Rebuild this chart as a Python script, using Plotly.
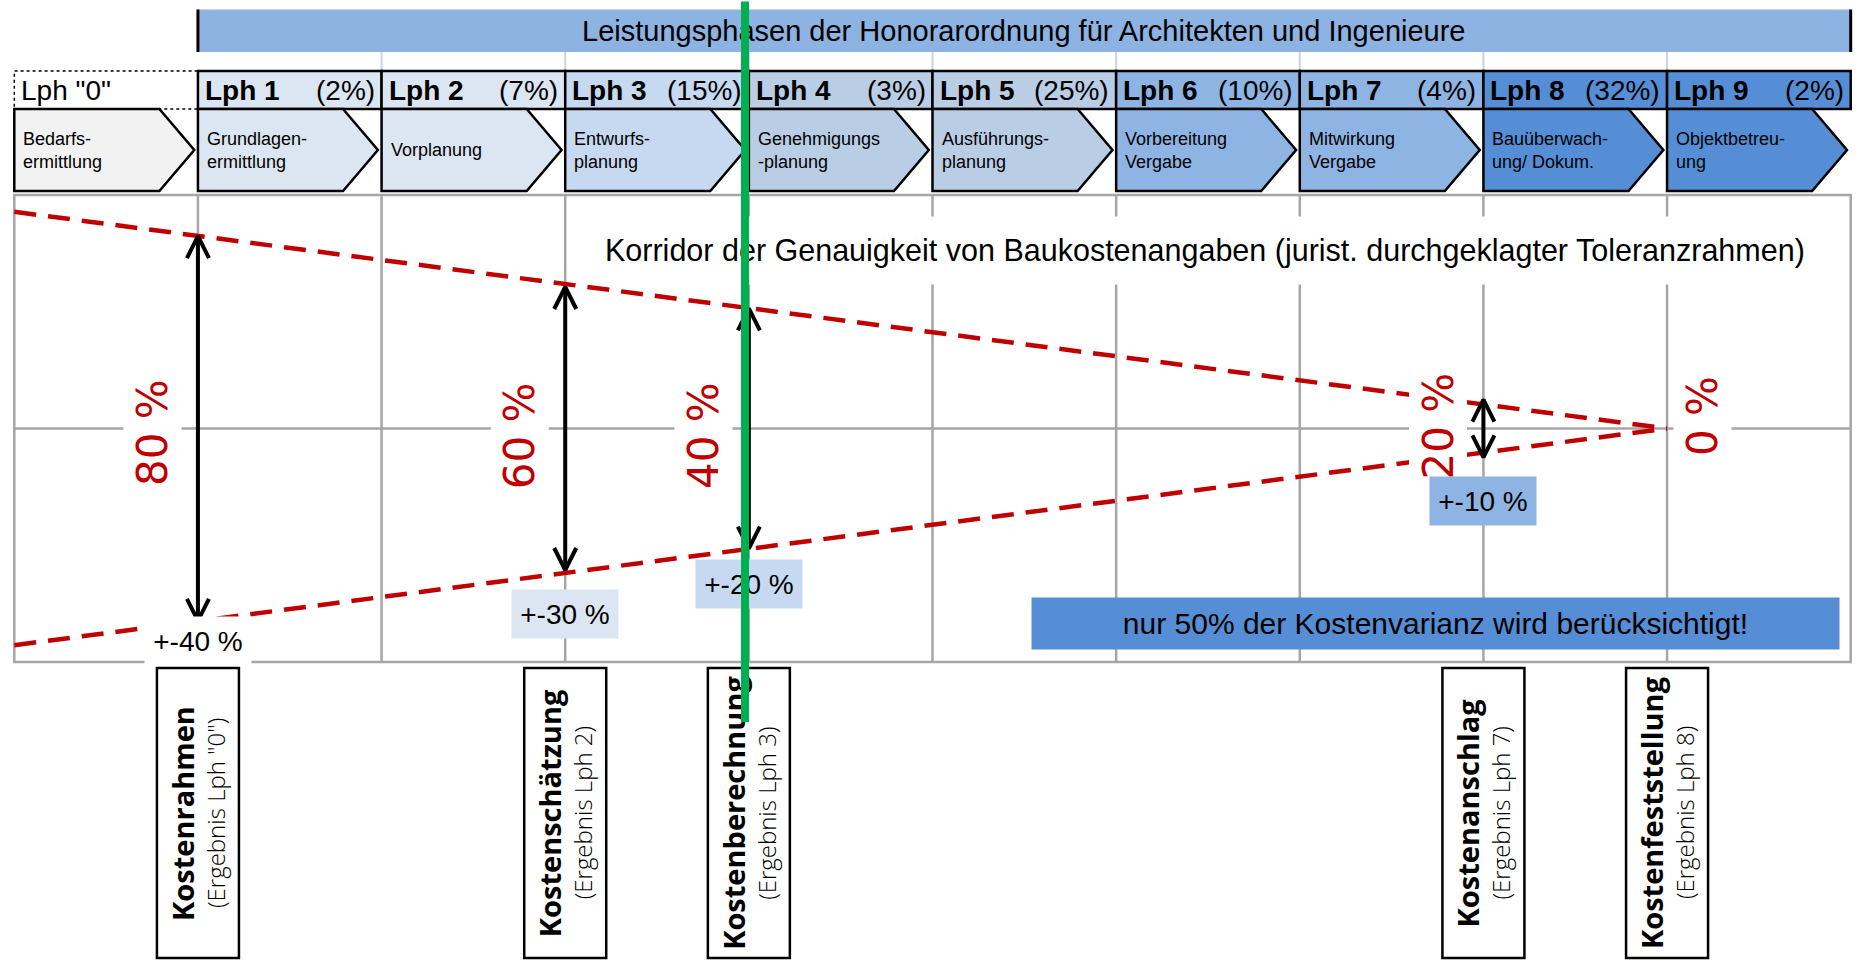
import plotly.graph_objects as go

# ---------------- data ----------------
phase_names = ['Lph "0"', 'Lph 1', 'Lph 2', 'Lph 3', 'Lph 4', 'Lph 5', 'Lph 6', 'Lph 7', 'Lph 8', 'Lph 9']
phase_fee = ['', '(2%)', '(7%)', '(15%)', '(3%)', '(25%)', '(10%)', '(4%)', '(32%)', '(2%)']
phase_tasks = ['Bedarfs-<br>ermittlung', 'Grundlagen-<br>ermittlung', 'Vorplanung', 'Entwurfs-<br>planung',
               'Genehmigungs<br>-planung', 'Ausführungs-<br>planung', 'Vorbereitung<br>Vergabe',
               'Mitwirkung<br>Vergabe', 'Bauüberwach-<br>ung/ Dokum.', 'Objektbetreu-<br>ung']
banner_text = 'Leistungsphasen der Honorarordnung für Architekten und Ingenieure'

corridor_x = [0, 9]
corridor_upper = [46.4, 0]
corridor_lower = [-46.4, 0]
corridor_title = 'Korridor der Genauigkeit von Baukostenangaben (jurist. durchgeklagter Toleranzrahmen)'

arrow_x = [1, 3, 4, 8]
arrow_half = [41.2, 30.3, 25.7, 6.2]
tolerance_text = ['+-40 %', '+-30 %', '+-20 %', '+-10 %']
corridor_width_text = ['80 %', '60 %', '40 %', '20 %', '0 %']

estimate_names = ['Kostenrahmen', 'Kostenschätzung', 'Kostenberechnung', 'Kostenanschlag', 'Kostenfeststellung']
estimate_sub = ['(Ergebnis Lph "0")', '(Ergebnis Lph 2)', '(Ergebnis Lph 3)', '(Ergebnis Lph 7)', '(Ergebnis Lph 8)']
estimate_x = [1, 3, 4, 8, 9]
note_text = 'nur 50% der Kostenvarianz wird berücksichtigt!'

# ---------------- layout helpers ----------------
W, H = 1865, 965
X0, DX = 14.3, 183.64     # page px of phase 0 and px per phase
Y0, DY = 428.5, 4.67      # page px of 0 and px per unit


def px2x(p):
    return (p - X0) / DX


def px2y(p):
    return (Y0 - p) / DY


ARIAL = "Liberation Sans, Arial, sans-serif"
WIDE = "DejaVu Sans, Verdana, sans-serif"
OPEN = "Open Sans, DejaVu Sans, sans-serif"
RED = '#C00000'
GRID = '#A6A6A6'

hdr_fill = ['#FFFFFF', '#DCE6F2', '#DCE6F2', '#C6D9F1', '#B9CDE5', '#B9CDE5',
            '#8EB4E3', '#8EB4E3', '#558ED5', '#558ED5']
chev_fill = ['#F2F2F2'] + hdr_fill[1:]

fig = go.Figure()
shapes = []
ann = []

# grid
shapes.append(dict(type='rect', x0=0, x1=10, y0=-50, y1=50, line=dict(color=GRID, width=2.5), layer='below'))
for k in range(1, 10):
    shapes.append(dict(type='line', x0=k, x1=k, y0=-50, y1=50, line=dict(color=GRID, width=2.5), layer='below'))
shapes.append(dict(type='line', x0=0, x1=10, y0=0, y1=0, line=dict(color=GRID, width=2.5), layer='below'))

# banner
shapes.append(dict(type='rect', x0=1, x1=10, y0=px2y(52), y1=px2y(9.5), fillcolor='#8DB3E2', line=dict(width=0)))
for xe in (1, 10):
    shapes.append(dict(type='line', x0=xe, x1=xe, y0=px2y(52), y1=px2y(9.5), line=dict(color='black', width=3)))
for k in range(2, 10):
    shapes.append(dict(type='line', x0=k, x1=k, y0=px2y(52), y1=px2y(71), line=dict(color='#C9D3E6', width=2)))
ann.append(dict(x=5.5, y=px2y(31), text=banner_text, showarrow=False,
                font=dict(family=ARIAL, size=29, color='black')))

# header row + chevrons
hy0, hy1 = px2y(109), px2y(71)
cy_top, cy_bot, cy_mid = px2y(109), px2y(191), px2y(150)
for k in range(10):
    if k == 0:
        shapes.append(dict(type='rect', x0=k, x1=k + 1, y0=hy0, y1=hy1, fillcolor='white',
                           line=dict(color='black', width=1.5, dash='dot')))
        ann.append(dict(x=k + 5 / DX, y=px2y(90), xanchor='left', text=phase_names[k], showarrow=False,
                        font=dict(family=ARIAL, size=28, color='black')))
    else:
        shapes.append(dict(type='rect', x0=k, x1=k + 1, y0=hy0, y1=hy1, fillcolor=hdr_fill[k],
                           line=dict(color='black', width=2.5)))
        ann.append(dict(x=k + 5 / DX, y=px2y(90), xanchor='left', text='<b>' + phase_names[k] + '</b>',
                        showarrow=False, font=dict(family=ARIAL, size=28, color='black')))
        ann.append(dict(x=k + 1 - 5 / DX, y=px2y(90), xanchor='right', text=phase_fee[k],
                        showarrow=False, font=dict(family=ARIAL, size=28, color='black')))
    path = (f'M {k},{cy_top} L {k + 0.79},{cy_top} L {k + 0.98},{cy_mid} '
            f'L {k + 0.79},{cy_bot} L {k},{cy_bot} Z')
    shapes.append(dict(type='path', path=path, fillcolor=chev_fill[k], line=dict(color='black', width=2.5)))
    ann.append(dict(x=k + 7 / DX, y=cy_mid, xanchor='left', yanchor='middle', align='left',
                    text=phase_tasks[k], showarrow=False, font=dict(family=ARIAL, size=18, color='black')))

# corridor lines
for yy in (corridor_upper, corridor_lower):
    fig.add_trace(go.Scatter(x=corridor_x, y=yy, mode='lines', hoverinfo='skip', showlegend=False,
                             line=dict(color=RED, width=4.5, dash='22px,12px')))

# arrows
hx, hy = 11 / DX, 22 / DY
axp, ayp = [], []
for x, h in zip(arrow_x, arrow_half):
    axp += [x, x, None]
    ayp += [h, -h, None]
    axp += [x - hx, x, x + hx, None]
    ayp += [h - hy, h, h - hy, None]
    axp += [x - hx, x, x + hx, None]
    ayp += [-h + hy, -h, -h + hy, None]
fig.add_trace(go.Scatter(x=axp, y=ayp, mode='lines', hoverinfo='skip', showlegend=False,
                         line=dict(color='black', width=4)))

# corridor title
ann.append(dict(x=px2x(1205), y=px2y(250), text=corridor_title, showarrow=False, bgcolor='white',
                height=55, borderpad=6, font=dict(family=ARIAL, size=30.5, color='black')))

# corridor width labels (rotated)
lbl_x = [a - 0.25 for a in arrow_x] + [9.19]
lbl_y = [433, 436, 435, 426, 416]
for t, x, yp in zip(corridor_width_text, lbl_x, lbl_y):
    ann.append(dict(x=x, y=px2y(yp), text=t, textangle=-90, showarrow=False, bgcolor='white',
                    borderpad=4, font=dict(family=WIDE, size=42, color=RED)))

# tolerance labels
tol_bg = ['#FFFFFF', '#DCE6F2', '#C6D9F1', '#8EB4E3']
tol_y = [641, 613.5, 583.5, 501]
for t, x, yp, bg in zip(tolerance_text, arrow_x, tol_y, tol_bg):
    ann.append(dict(x=x, y=px2y(yp), text=t, showarrow=False, bgcolor=bg, width=104, height=46,
                    font=dict(family=ARIAL, size=28, color='black')))

# note box
ann.append(dict(x=px2x(1435), y=px2y(623.5), text=note_text, showarrow=False, bgcolor='#558ED5',
                width=805, height=49, font=dict(family=ARIAL, size=30, color='black')))

# estimate boxes
for name, sub, x in zip(estimate_names, estimate_sub, estimate_x):
    shapes.append(dict(type='rect', x0=x - 41 / DX, x1=x + 41 / DX, y0=px2y(958), y1=px2y(668),
                       fillcolor='white', line=dict(color='black', width=2.5)))
    ann.append(dict(x=x - 16 / DX, y=px2y(813), text='<b>' + name + '</b>', textangle=-90, showarrow=False,
                    font=dict(family=OPEN, size=29, color='black')))
    ann.append(dict(x=x + 17 / DX, y=px2y(813), text=sub, textangle=-90, showarrow=False,
                    font=dict(family=OPEN, size=24, weight=300, color='black')))

# green marker line (drawn last, on top)
ann.append(dict(x=px2x(745), y=px2y(722), ax=px2x(745), ay=px2y(0), axref='x', ayref='y',
                text='', showarrow=True, arrowhead=0, arrowwidth=8, arrowcolor='#00B050', standoff=0))

fig.update_layout(
    width=W, height=H, margin=dict(l=0, r=0, t=0, b=0),
    paper_bgcolor='white', plot_bgcolor='white', showlegend=False,
    xaxis=dict(range=[-X0 / DX, (W - X0) / DX], visible=False, fixedrange=True),
    yaxis=dict(range=[px2y(H), px2y(0)], visible=False, fixedrange=True),
    shapes=shapes, annotations=ann,
)

fig.write_html("out.html", config={'displayModeBar': False},
               post_script="document.body.style.margin='0';document.body.style.overflow='hidden';")
